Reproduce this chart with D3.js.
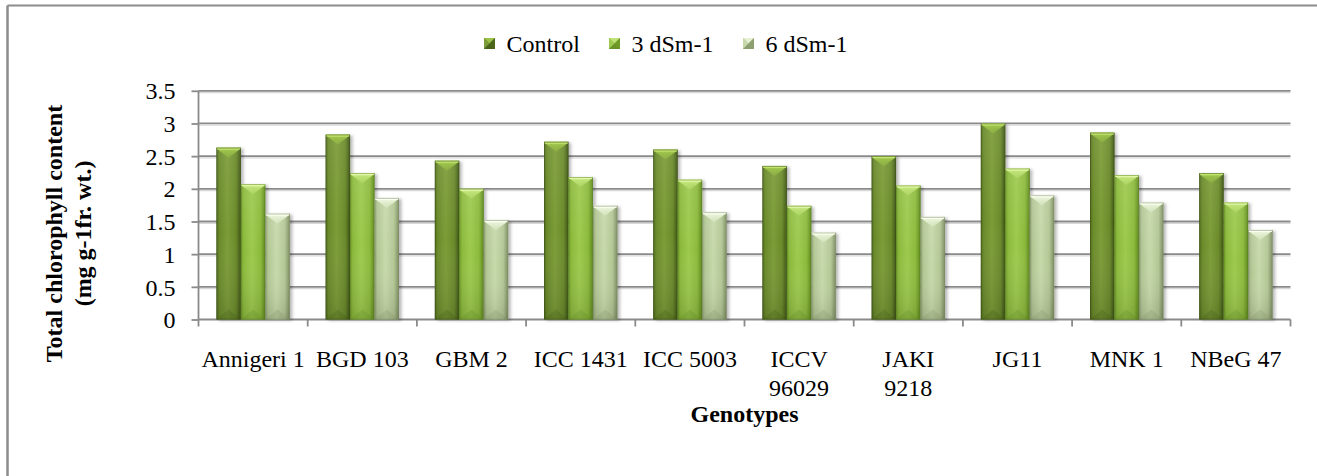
<!DOCTYPE html>
<html>
<head>
<meta charset="utf-8">
<script src="https://cdn.jsdelivr.net/npm/d3@7"></script>
<style>
  html, body { margin: 0; padding: 0; background: #fff; }
  svg { display: block; font-family: "Liberation Serif", "Times New Roman", serif; }
  svg text { font-family: "Liberation Serif", "Times New Roman", serif; }
</style>
</head>
<body>
<svg id="chart" width="1317" height="476"></svg>
<script>
// ---------------- data ----------------
const categories = ["Annigeri 1", "BGD 103", "GBM 2", "ICC 1431", "ICC 5003",
                    "ICCV 96029", "JAKI 9218", "JG11", "MNK 1", "NBeG 47"];
const tickLabelLines = [["Annigeri 1"], ["BGD 103"], ["GBM 2"], ["ICC 1431"], ["ICC 5003"],
                        ["ICCV", "96029"], ["JAKI", "9218"], ["JG11"], ["MNK 1"], ["NBeG 47"]];
const seriesNames = ["Control", "3 dSm-1", "6 dSm-1"];
const controlValues = [2.63, 2.83, 2.43, 2.72, 2.60, 2.35, 2.50, 3.00, 2.86, 2.24];
const dsm3Values    = [2.07, 2.24, 2.00, 2.18, 2.14, 1.74, 2.05, 2.31, 2.21, 1.79];
const dsm6Values    = [1.62, 1.86, 1.52, 1.74, 1.64, 1.33, 1.57, 1.90, 1.79, 1.37];
const yTicks = [0, 0.5, 1, 1.5, 2, 2.5, 3, 3.5];
const yTickLabels = ["0", "0.5", "1", "1.5", "2", "2.5", "3", "3.5"];
const yTitleLines = ["Total chlorophyll content", "(mg g-1fr. wt.)"];
const xTitle = "Genotypes";

const seriesValues = [controlValues, dsm3Values, dsm6Values];

// ---------------- styles ----------------
const FONT = "Liberation Serif";
const palettes = [
  { edge: "#4c661c", mid: "#6a8a2a", light: "#7b9c37", chev: "#9cc24a", top: "#c2e470", bot: "#3c5214" },
  { edge: "#6e9a26", mid: "#8cba3c", light: "#9dca4e", chev: "#bfe277", top: "#e2f8a8", bot: "#5a8220" },
  { edge: "#8e9f72", mid: "#b2c694", light: "#c6d9aa", chev: "#e6f1d4", top: "#fbfff2", bot: "#7c8c60" }
];

const svg = d3.select("#chart");
const W = 1317, H = 476;
const plot = { left: 198.5, right: 1290.5, top: 90.8, bottom: 319.5 };

const defs = svg.append("defs");
palettes.forEach((p, i) => {
  const g = defs.append("linearGradient").attr("id", "hg" + i)
    .attr("x1", "0%").attr("x2", "100%").attr("y1", "0%").attr("y2", "0%");
  [[0, p.edge], [0.12, p.mid], [0.45, p.light], [0.8, p.mid], [0.93, p.edge], [1, p.bot]].forEach(s =>
    g.append("stop").attr("offset", s[0]).attr("stop-color", s[1]));
  const t = defs.append("linearGradient").attr("id", "tg" + i)
    .attr("x1", "0%").attr("x2", "0%").attr("y1", "0%").attr("y2", "100%");
  t.append("stop").attr("offset", 0).attr("stop-color", p.top);
  t.append("stop").attr("offset", 0.3).attr("stop-color", p.chev);
  t.append("stop").attr("offset", 1).attr("stop-color", p.chev).attr("stop-opacity", 0.35);
});
const vg = defs.append("linearGradient").attr("id", "vshade")
  .attr("x1", "0%").attr("x2", "0%").attr("y1", "0%").attr("y2", "100%");
vg.append("stop").attr("offset", 0).attr("stop-color", "#fff").attr("stop-opacity", 0.08);
vg.append("stop").attr("offset", 0.5).attr("stop-color", "#fff").attr("stop-opacity", 0);
vg.append("stop").attr("offset", 1).attr("stop-color", "#000").attr("stop-opacity", 0.12);

const f = defs.append("filter").attr("id", "shadow")
  .attr("x", "-20%").attr("y", "-5%").attr("width", "150%").attr("height", "115%");
f.append("feDropShadow").attr("dx", 2.5).attr("dy", 1).attr("stdDeviation", 1.8)
  .attr("flood-color", "#000").attr("flood-opacity", 0.28);

// chart border (top and left visible)
svg.append("line").attr("x1", 7.5).attr("x2", W).attr("y1", 5.5).attr("y2", 5.5)
  .attr("stroke", "#8c8c8c").attr("stroke-width", 2);
svg.append("line").attr("x1", 7.5).attr("x2", 7.5).attr("y1", 5.5).attr("y2", H)
  .attr("stroke", "#8c8c8c").attr("stroke-width", 2.5);

// ---------------- scales ----------------
const x0 = d3.scaleBand().domain(categories).range([plot.left, plot.right]).paddingInner(0).paddingOuter(0);
const bw = x0.bandwidth();
const groupPad = bw * 0.164;
const x1 = d3.scaleBand().domain(seriesNames).range([groupPad, bw - groupPad]).padding(0);
const y = d3.scaleLinear().domain([0, 3.5]).range([plot.bottom, plot.top]);

// gridlines (with faint shadow)
const grid = svg.append("g");
grid.selectAll("line.gs").data(yTicks.filter(v => v > 0)).join("line").attr("class", "gs")
  .attr("x1", plot.left).attr("x2", plot.right)
  .attr("y1", d => y(d) + 1.8).attr("y2", d => y(d) + 1.8)
  .attr("stroke", "#d8d8d8").attr("stroke-width", 1.2);
grid.selectAll("line.gl").data(yTicks.filter(v => v > 0)).join("line").attr("class", "gl")
  .attr("x1", plot.left).attr("x2", plot.right)
  .attr("y1", d => y(d)).attr("y2", d => y(d))
  .attr("stroke", "#8a8a8a").attr("stroke-width", 1.8);

// y axis
const yAxis = d3.axisLeft(y).tickValues(yTicks).tickFormat((d, i) => yTickLabels[i])
  .tickSize(7).tickPadding(16);
const yg = svg.append("g").attr("transform", `translate(${plot.left},0)`).call(yAxis)
  .attr("font-family", FONT).attr("font-size", 24);
yg.select(".domain").attr("stroke", "#8a8a8a").attr("stroke-width", 1.8)
  .attr("d", `M0,${plot.top}V${plot.bottom}`);
yg.selectAll(".tick line").attr("stroke", "#8a8a8a").attr("stroke-width", 1.8);
yg.selectAll(".tick text").attr("font-family", FONT).attr("font-size", 24)
  .attr("fill", "#000").attr("dy", "0.34em");

// x axis (ticks at category boundaries)
const boundaries = categories.map(c => x0(c)).concat([plot.right]);
const xg = svg.append("g");
xg.append("line").attr("x1", plot.left).attr("x2", plot.right)
  .attr("y1", plot.bottom).attr("y2", plot.bottom)
  .attr("stroke", "#8a8a8a").attr("stroke-width", 1.8);
xg.selectAll("line.tk").data(boundaries).join("line").attr("class", "tk")
  .attr("x1", d => d).attr("x2", d => d)
  .attr("y1", plot.bottom).attr("y2", plot.bottom + 7)
  .attr("stroke", "#8a8a8a").attr("stroke-width", 1.8);

const xl = svg.append("g").selectAll("text").data(categories).join("text")
  .attr("x", d => x0(d) + bw / 2).attr("y", 366.5)
  .attr("text-anchor", "middle").attr("font-family", FONT).attr("font-size", 24).attr("fill", "#000");
xl.each(function (d, i) {
  d3.select(this).selectAll("tspan").data(tickLabelLines[i]).join("tspan")
    .attr("x", x0(d) + bw / 2).attr("dy", (t, j) => j === 0 ? 0 : 29).text(t => t);
});

// ---------------- bars ----------------
const groups = svg.append("g").selectAll("g").data(categories).join("g")
  .attr("transform", d => `translate(${x0(d)},0)`);

groups.each(function (cat, ci) {
  const g = d3.select(this);
  seriesNames.forEach((s, si) => {
    const v = seriesValues[si][ci];
    const bx = x1(s), w = x1.bandwidth();
    const top = y(v), bottom = y(0);
    const p = palettes[si];
    const bar = g.append("g");
    bar.append("rect").attr("x", bx).attr("y", top).attr("width", w).attr("height", bottom - top)
      .attr("fill", `url(#hg${si})`).attr("filter", "url(#shadow)");
    bar.append("rect").attr("x", bx).attr("y", top).attr("width", w).attr("height", bottom - top)
      .attr("fill", "url(#vshade)");
    const d = 10;
    // top chevron facet
    bar.append("path")
      .attr("d", `M${bx},${top}L${bx + w},${top}L${bx + w - 3},${top + 3}L${bx + w / 2},${top + d}L${bx + 3},${top + 3}Z`)
      .attr("fill", `url(#tg${si})`);
    bar.append("line").attr("x1", bx + 0.5).attr("x2", bx + w - 0.5).attr("y1", top + 1).attr("y2", top + 1)
      .attr("stroke", p.top).attr("stroke-width", 2);
    // bottom facet
    bar.append("path")
      .attr("d", `M${bx},${bottom}L${bx + w},${bottom}L${bx + w / 2},${bottom - d}Z`)
      .attr("fill", p.bot).attr("opacity", 0.22);
    // outline
    bar.append("rect").attr("x", bx + 0.4).attr("y", top + 0.4).attr("width", w - 0.8).attr("height", bottom - top - 0.8)
      .attr("fill", "none").attr("stroke", p.bot).attr("stroke-width", 0.8).attr("opacity", 0.6);
  });
});

// ---------------- legend ----------------
const legendX = [484, 609, 743];
const lg = svg.append("g").selectAll("g").data(seriesNames).join("g")
  .attr("transform", (d, i) => `translate(${legendX[i]},38)`);
lg.append("rect").attr("width", 11).attr("height", 11).attr("fill", (d, i) => palettes[i].mid);
lg.append("path").attr("d", "M0,0L11,0L5.5,5.5Z").attr("fill", (d, i) => palettes[i].chev);
lg.append("path").attr("d", "M0,0L5.5,5.5L0,11Z").attr("fill", (d, i) => palettes[i].light);
lg.append("path").attr("d", "M11,0L5.5,5.5L11,11Z").attr("fill", (d, i) => palettes[i].edge);
lg.append("path").attr("d", "M0,11L11,11L5.5,5.5Z").attr("fill", (d, i) => palettes[i].bot).attr("opacity", 0.7);
lg.append("text").attr("x", 22.5).attr("y", 13.7).attr("font-family", FONT).attr("font-size", 24)
  .attr("fill", "#000").text(d => d);

// ---------------- axis titles ----------------
const yt = svg.append("text").attr("transform", "translate(62,233.5) rotate(-90)")
  .attr("text-anchor", "middle").attr("font-family", FONT).attr("font-size", 24)
  .attr("font-weight", "bold").attr("fill", "#000");
yt.selectAll("tspan").data(yTitleLines).join("tspan")
  .attr("x", 0).attr("dy", (d, i) => i === 0 ? 0 : 29).text(d => d);

svg.append("text").attr("x", (plot.left + plot.right) / 2).attr("y", 422)
  .attr("text-anchor", "middle").attr("font-family", FONT).attr("font-size", 24)
  .attr("font-weight", "bold").attr("fill", "#000")
  .text(xTitle);
</script>
</body>
</html>
